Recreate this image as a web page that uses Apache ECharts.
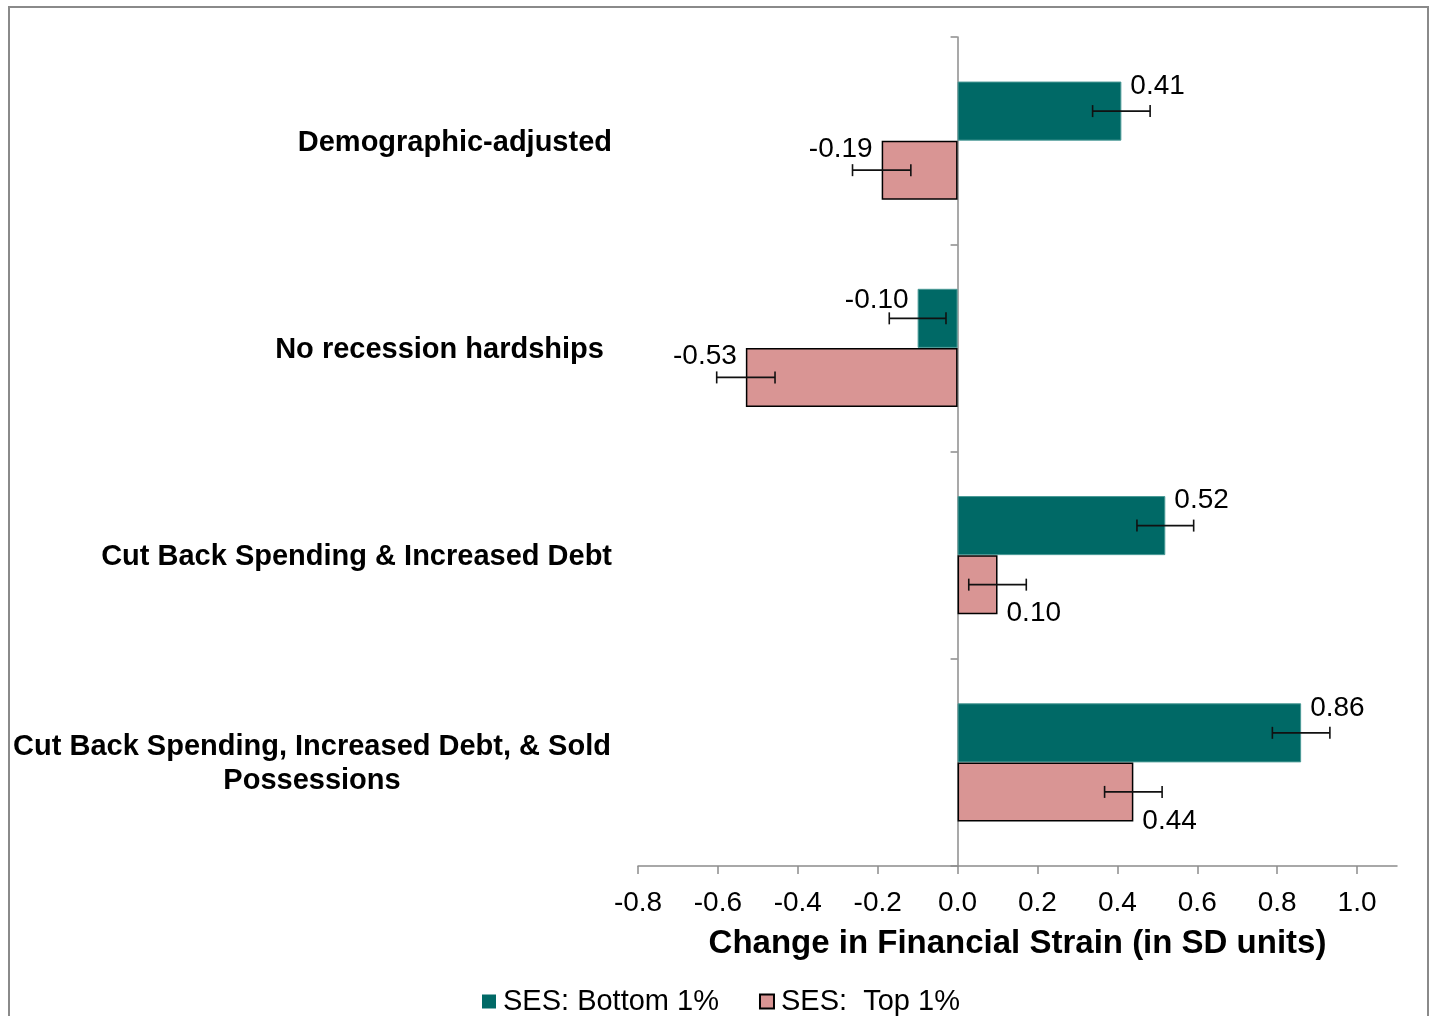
<!DOCTYPE html>
<html><head><meta charset="utf-8">
<script src="https://cdn.jsdelivr.net/npm/echarts@6/dist/echarts.min.js"></script>
<style>html,body{margin:0;padding:0;background:#fff}#c{width:1430px;height:1016px}</style>
</head><body><div id="c"></div>
<script>
const categories = ['Demographic-adjusted', 'No recession hardships ', 'Cut Back Spending & Increased Debt', 'Cut Back Spending, Increased Debt, & Sold\nPossessions'];
const seriesNames = ['SES: Bottom 1%', 'SES:  Top 1%'];
const bottomValues = [0.41, -0.10, 0.52, 0.86];
const topValues = [-0.19, -0.53, 0.10, 0.44];
const bottomErrors = [0.072, 0.071, 0.071, 0.072];
const topErrors = [0.073, 0.073, 0.072, 0.072];
const xTicks = [-0.8, -0.6, -0.4, -0.2, 0.0, 0.2, 0.4, 0.6, 0.8, 1.0];

const FONT = 'Liberation Sans, Arial, sans-serif';
const TEAL = '#006966';
const PINK = '#D99594';
const GAP = 0.43;

function barData(vals, isTop) {
  return vals.map(v => ({
    value: v,
    label: {
      position: v >= 0 ? 'right' : 'left',
      offset: [0, isTop ? (v >= 0 ? 29 : -21) : (v >= 0 ? -25 : -18)]
    }
  }));
}
function errData(vals, errs) {
  return vals.map((v, i) => [v, i, errs[i]]);
}
function errRenderer(sign) {
  return function (params, api) {
    const v = api.value(0), cat = api.value(1), e = api.value(2);
    const band = api.size([0, 1], [v, cat])[1];
    const barH = band * (1 - GAP) / 2;
    const c = api.coord([v, cat]);
    const y = c[1] + sign * barH / 2;
    const x1 = api.coord([v - e, cat])[0];
    const x2 = api.coord([v + e, cat])[0];
    const cap = 6;
    const st = { stroke: '#111', lineWidth: 1.6 };
    return {
      type: 'group', children: [
        { type: 'line', shape: { x1: x1, y1: y, x2: x2, y2: y }, style: st },
        { type: 'line', shape: { x1: x1, y1: y - cap, x2: x1, y2: y + cap }, style: st },
        { type: 'line', shape: { x1: x2, y1: y - cap, x2: x2, y2: y + cap }, style: st }
      ]
    };
  };
}

const chart = echarts.init(document.getElementById('c'), null, { renderer: 'canvas' });
chart.setOption({
  backgroundColor: '#fff',
  textStyle: { fontFamily: FONT },
  animation: false,
  graphic: [{
    type: 'rect', silent: true, z: 0,
    shape: { x: 9, y: 7, width: 1419, height: 1040 },
    style: { fill: 'none', stroke: '#8a8a8a', lineWidth: 2 }
  }],
  grid: { left: 638, right: 33, top: 37, bottom: 150, containLabel: false },
  legend: {
    data: [{ name: seriesNames[0], icon: 'rect', itemStyle: { borderWidth: 0 } }, { name: seriesNames[1], icon: 'rect' }],
    left: 482, top: 987, padding: 0, itemWidth: 14, itemHeight: 14, itemGap: 40,
    textStyle: { fontSize: 29, color: '#000', fontFamily: FONT, padding: [0, 0, 0, 2] }
  },
  xAxis: {
    type: 'value', min: -0.8, max: 1.1, interval: 0.2,
    splitLine: { show: false },
    axisLine: { show: true, onZero: false, lineStyle: { color: '#8c8c8c', width: 1.5 } },
    axisTick: { show: true, length: 8, customValues: xTicks, lineStyle: { color: '#8c8c8c', width: 1.5 } },
    axisLabel: { customValues: xTicks, formatter: v => v.toFixed(1), fontSize: 28, color: '#000', margin: 23, fontFamily: FONT },
    name: 'Change in Financial Strain (in SD units)', nameLocation: 'middle', nameGap: 61,
    nameTextStyle: { fontSize: 33, fontWeight: 'bold', color: '#000', fontFamily: FONT }
  },
  yAxis: [{
    type: 'category', data: categories, inverse: true,
    axisLine: { show: true, onZero: true, lineStyle: { color: '#8c8c8c', width: 1.5 } },
    axisTick: { show: true, length: 7, lineStyle: { color: '#8c8c8c', width: 1.5 } },
    axisLabel: { show: false }
  }, {
    type: 'category', data: categories, inverse: true, position: 'left',
    axisLine: { show: false, onZero: false }, axisTick: { show: false },
    axisLabel: {
      margin: 26, fontSize: 29, fontWeight: 'bold', color: '#000', fontFamily: FONT, lineHeight: 34,
      padding: [4, 0, 0, 0],
      formatter: function (s) {
        if (s.indexOf('\n') >= 0) return s.split('\n').map(l => '{c|' + l + '}').join('\n');
        return s;
      },
      rich: { c: { width: 600, align: 'center', fontSize: 29, fontWeight: 'bold', color: '#000', fontFamily: FONT, lineHeight: 34 } }
    }
  }],
  series: [{
    name: seriesNames[0], type: 'bar', yAxisIndex: 0,
    data: barData(bottomValues, false),
    barCategoryGap: (GAP * 100) + '%', barGap: 0,
    itemStyle: { color: TEAL, borderColor: '#4a9a96', borderWidth: 1 },
    label: { show: true, formatter: p => p.value.toFixed(2), fontSize: 28, color: '#000', distance: 9, fontFamily: FONT }
  }, {
    name: seriesNames[1], type: 'bar', yAxisIndex: 0,
    data: barData(topValues, true),
    barCategoryGap: (GAP * 100) + '%', barGap: 0,
    itemStyle: { color: PINK, borderColor: '#000', borderWidth: 1.5 },
    label: { show: true, formatter: p => p.value.toFixed(2), fontSize: 28, color: '#000', distance: 9, fontFamily: FONT }
  }, {
    type: 'custom', yAxisIndex: 0, silent: true, z: 5,
    encode: { x: 0, y: 1 },
    renderItem: errRenderer(-1),
    data: errData(bottomValues, bottomErrors)
  }, {
    type: 'custom', yAxisIndex: 0, silent: true, z: 5,
    encode: { x: 0, y: 1 },
    renderItem: errRenderer(1),
    data: errData(topValues, topErrors)
  }]
});
</script>
</body></html>
